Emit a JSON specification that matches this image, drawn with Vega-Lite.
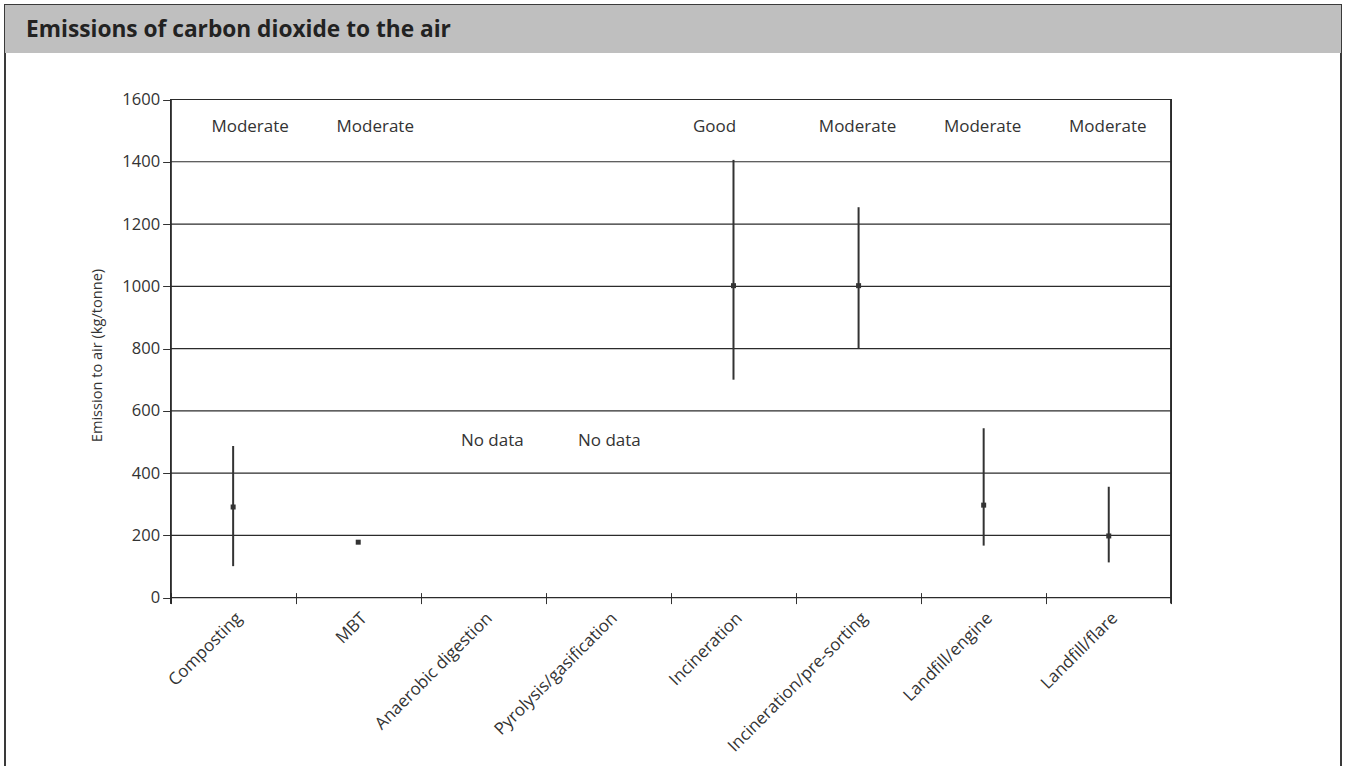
{
  "$schema": "https://vega.github.io/schema/vega-lite/v6.json",
  "autosize": {"type": "none"},
  "padding": {"left": 5, "top": 5, "right": 4, "bottom": -1},
  "width": 1336,
  "height": 762,
  "background": "white",
  "config": {
    "view": {"stroke": "#3a3a3a", "strokeWidth": 2},
    "font": "Open Sans",
    "text": {"font": "Open Sans", "fontSize": 17, "color": "#333333"}
  },
  "title": {
    "text": "Emissions of carbon dioxide to the air",
    "anchor": "start",
    "frame": "group",
    "orient": "top",
    "baseline": "alphabetic",
    "offset": -31,
    "dx": 21,
    "dy": 24,
    "font": "Open Sans",
    "fontSize": 22.7,
    "fontWeight": "bold",
    "color": "#222222"
  },
  "datasets": {
    "emissions": [
      {"process": "Composting", "low": 101, "high": 487, "mid": 291, "rating": "Moderate"},
      {"process": "MBT", "low": null, "high": null, "mid": 178, "rating": "Moderate"},
      {"process": "Anaerobic digestion", "low": null, "high": null, "mid": null, "rating": "No data"},
      {"process": "Pyrolysis/gasification", "low": null, "high": null, "mid": null, "rating": "No data"},
      {"process": "Incineration", "low": 700, "high": 1406, "mid": 1002, "rating": "Good"},
      {"process": "Incineration/pre-sorting", "low": 800, "high": 1254, "mid": 1002, "rating": "Moderate"},
      {"process": "Landfill/engine", "low": 167, "high": 544, "mid": 297, "rating": "Moderate"},
      {"process": "Landfill/flare", "low": 113, "high": 356, "mid": 198, "rating": "Moderate"}
    ],
    "grid": [
      {"g": 0}, {"g": 200}, {"g": 400}, {"g": 600}, {"g": 800},
      {"g": 1000}, {"g": 1200}, {"g": 1400}, {"g": 1600}
    ]
  },
  "data": {"name": "emissions"},
  "encoding": {
    "x": {
      "field": "process",
      "type": "nominal",
      "sort": null,
      "scale": {
        "domain": ["Composting", "MBT", "Anaerobic digestion", "Pyrolysis/gasification", "Incineration", "Incineration/pre-sorting", "Landfill/engine", "Landfill/flare"],
        "range": [165.6, 1166.3],
        "paddingInner": 0,
        "paddingOuter": 0
      },
      "axis": {
        "title": null,
        "orient": "bottom",
        "offset": -174.4,
        "domain": false,
        "grid": false,
        "tickBand": "extent",
        "tickSize": 11,
        "tickColor": "#333333",
        "tickWidth": 1,
        "labelAngle": -45,
        "labelAlign": "right",
        "labelBaseline": "top",
        "labelPadding": 6,
        "labelLimit": 0,
        "labelFont": "Open Sans",
        "labelFontSize": 17,
        "labelColor": "#333333"
      }
    }
  },
  "layer": [
    {
      "mark": {"type": "rect", "color": "#bfbfbf"},
      "encoding": {
        "x": null,
        "y": {
          "datum": 1749.4,
          "type": "quantitative",
          "scale": {"domain": [-544.2, 1903.6], "nice": false, "zero": false},
          "axis": {
            "title": "Emission to air (kg/tonne)",
            "orient": "left",
            "offset": -165.6,
            "values": [0, 200, 400, 600, 800, 1000, 1200, 1400, 1600],
            "format": "d",
            "domain": false,
            "grid": false,
            "tickSize": 8,
            "tickColor": "#333333",
            "labelFont": "Open Sans",
            "labelFontSize": 16.5,
            "labelColor": "#333333",
            "labelPadding": 3,
            "titleFont": "Open Sans",
            "titleFontSize": 14.6,
            "titleFontWeight": "normal",
            "titleColor": "#333333",
            "titleX": -73,
            "titleY": 350,
            "titleAngle": 270,
            "titleAlign": "center",
            "titleBaseline": "middle"
          }
        },
        "y2": {"datum": 1903.6}
      }
    },
    {
      "data": {"name": "grid"},
      "mark": {"type": "rule", "color": "#2b2b2b", "strokeWidth": 1.2},
      "encoding": {
        "x": {"datum": "Composting", "bandPosition": 0},
        "x2": {"datum": "Landfill/flare", "bandPosition": 1},
        "y": {"field": "g", "type": "quantitative"}
      }
    },
    {
      "mark": {"type": "rule", "color": "#2b2b2b", "strokeWidth": 1.2},
      "encoding": {
        "x": {"datum": "Composting", "bandPosition": 0},
        "y": {"datum": -18},
        "y2": {"datum": 1600}
      }
    },
    {
      "mark": {"type": "rule", "color": "#2b2b2b", "strokeWidth": 1.2},
      "encoding": {
        "x": {"datum": "Landfill/flare", "bandPosition": 1},
        "y": {"datum": -18},
        "y2": {"datum": 1600}
      }
    },
    {
      "mark": {"type": "rule", "color": "#333333", "strokeWidth": 2},
      "encoding": {
        "y": {"field": "low", "type": "quantitative"},
        "y2": {"field": "high"}
      }
    },
    {
      "mark": {"type": "square", "color": "#333333", "size": 25, "opacity": 1, "filled": true},
      "encoding": {
        "y": {"field": "mid", "type": "quantitative"}
      }
    },
    {
      "transform": [{"filter": "datum.process === 'Composting' || datum.process === 'MBT'"}],
      "mark": {"type": "text", "baseline": "middle", "align": "center", "dx": 17},
      "encoding": {
        "y": {"datum": 1512},
        "text": {"field": "rating"}
      }
    },
    {
      "transform": [{"filter": "datum.process === 'Incineration'"}],
      "mark": {"type": "text", "baseline": "middle", "align": "center", "dx": -19},
      "encoding": {
        "y": {"datum": 1512},
        "text": {"field": "rating"}
      }
    },
    {
      "transform": [{"filter": "datum.rating === 'Moderate' && datum.process !== 'Composting' && datum.process !== 'MBT'"}],
      "mark": {"type": "text", "baseline": "middle", "align": "center", "dx": -1},
      "encoding": {
        "y": {"datum": 1512},
        "text": {"field": "rating"}
      }
    },
    {
      "transform": [{"filter": "datum.process === 'Anaerobic digestion'"}],
      "mark": {"type": "text", "baseline": "middle", "align": "center", "dx": 9},
      "encoding": {
        "y": {"datum": 503},
        "text": {"field": "rating"}
      }
    },
    {
      "transform": [{"filter": "datum.process === 'Pyrolysis/gasification'"}],
      "mark": {"type": "text", "baseline": "middle", "align": "center", "dx": 1},
      "encoding": {
        "y": {"datum": 503},
        "text": {"field": "rating"}
      }
    }
  ]
}
